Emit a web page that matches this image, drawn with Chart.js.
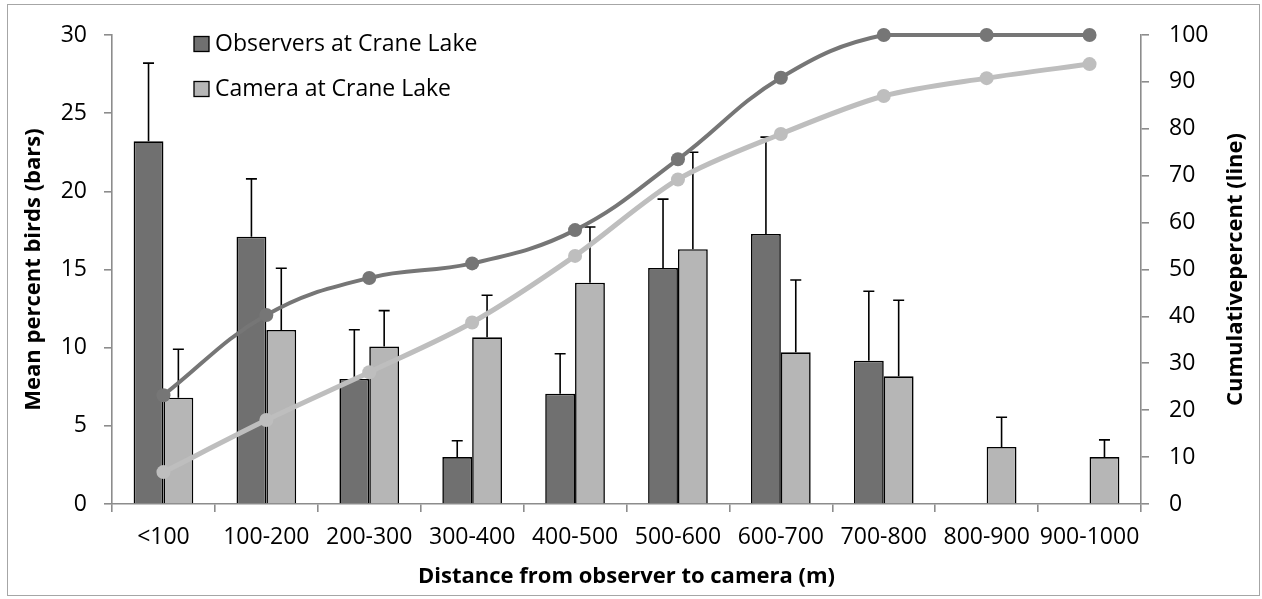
<!DOCTYPE html>
<html>
<head>
<meta charset="utf-8">
<script src="https://cdn.jsdelivr.net/npm/chart.js@4"></script>
<style>
html,body{margin:0;padding:0;background:#fff;}
#wrap{position:relative;width:1262px;height:599px;}
#frame{position:absolute;left:7px;top:4px;width:1251px;height:590px;border:1.5px solid #a6a6a6;pointer-events:none;}
</style>
</head>
<body>
<div id="wrap">
<canvas id="c" width="1262" height="599"></canvas>
<div id="frame"></div>
</div>
<script>
const categories = ['<100','100-200','200-300','300-400','400-500','500-600','600-700','700-800','800-900','900-1000'];
const observerMean = [23.2, 17.1, 8.0, 3.0, 7.06, 15.1, 17.27, 9.17, null, null];
const observerErr  = [5.0, 3.7, 3.15, 1.05, 2.55, 4.4, 6.2, 4.44, null, null];
const cameraMean   = [6.8, 11.13, 10.07, 10.66, 14.16, 16.3, 9.7, 8.17, 3.65, 3.0];
const cameraErr    = [3.1, 3.95, 2.3, 2.69, 3.56, 6.2, 4.63, 4.86, 1.9, 1.1];
const observerCum  = [23.2, 40.3, 48.2, 51.3, 58.4, 73.5, 90.9, 100, 100, 100];
const cameraCum    = [6.8, 17.9, 28.1, 38.7, 52.9, 69.2, 78.9, 87.0, 90.8, 93.8];
const leftTicks = [0,5,10,15,20,25,30];
const rightTicks = [0,10,20,30,40,50,60,70,80,90,100];
const rightTitle = 'Cumulativepercent (line)';

const FONT = '"Open Sans", sans-serif';
const TICK_SIZE = 23;
const DARK_BAR = '#707070', LIGHT_BAR = '#b6b6b6';
const DARK_LINE = '#767676', LIGHT_LINE = '#bebebe';
const AXIS = '#8c8c8c';

const errorBars = {
  id: 'errorBars',
  afterDatasetDraw(chart, args) {
    const ds = chart.data.datasets[args.index];
    if (!ds.errors) return;
    const meta = args.meta;
    const ys = chart.scales[meta.yAxisID];
    const ctx = chart.ctx;
    ctx.save();
    ctx.strokeStyle = '#000';
    ctx.lineWidth = 1.6;
    meta.data.forEach((el, i) => {
      const v = ds.data[i], e = ds.errors[i];
      if (v == null || e == null) return;
      const yTop = ys.getPixelForValue(v + e);
      ctx.beginPath();
      ctx.moveTo(el.x, el.y);
      ctx.lineTo(el.x, yTop);
      ctx.moveTo(el.x - 5.5, yTop);
      ctx.lineTo(el.x + 5.5, yTop);
      ctx.stroke();
    });
    ctx.restore();
  }
};

const extras = {
  id: 'extras',
  afterDraw(chart) {
    const ctx = chart.ctx;
    const items = chart.data.datasets.filter(d => d.type === 'bar');
    ctx.save();
    ctx.font = TICK_SIZE + 'px ' + FONT;
    ctx.textBaseline = 'middle';
    ctx.textAlign = 'left';
    items.forEach((d, i) => {
      const cy = 44 + i * 45;
      ctx.fillStyle = d.backgroundColor;
      ctx.fillRect(194, cy - 7.5, 15, 15);
      ctx.strokeStyle = '#000';
      ctx.lineWidth = 1.3;
      ctx.strokeRect(194, cy - 7.5, 15, 15);
      ctx.fillStyle = '#000';
      ctx.fillText(d.label, 215, cy);
    });
    // right axis title, reading bottom-to-top
    const ca = chart.chartArea;
    ctx.translate(1236, (ca.top + ca.bottom) / 2);
    ctx.rotate(-Math.PI / 2);
    ctx.font = 'bold 22px ' + FONT;
    ctx.textAlign = 'center';
    ctx.fillText(rightTitle, 0, 0);
    ctx.restore();
  }
};

new Chart(document.getElementById('c'), {
  data: {
    labels: categories,
    datasets: [
      { type: 'bar', label: 'Observers at Crane Lake', data: observerMean, errors: observerErr,
        backgroundColor: DARK_BAR, borderColor: '#000', borderWidth: 1.6, yAxisID: 'y', order: 2,
        categoryPercentage: 0.58, barPercentage: 1.0 },
      { type: 'bar', label: 'Camera at Crane Lake', data: cameraMean, errors: cameraErr,
        backgroundColor: LIGHT_BAR, borderColor: '#000', borderWidth: 1.6, yAxisID: 'y', order: 3,
        categoryPercentage: 0.58, barPercentage: 1.0 },
      { type: 'line', label: 'Observers cumulative', data: observerCum, yAxisID: 'y2', order: 0,
        borderColor: DARK_LINE, backgroundColor: DARK_LINE, borderWidth: 4, tension: 0.4, clip: 12,
        pointRadius: 7, pointBackgroundColor: DARK_LINE, pointBorderWidth: 0 },
      { type: 'line', label: 'Camera cumulative', data: cameraCum, yAxisID: 'y2', order: 1,
        borderColor: LIGHT_LINE, backgroundColor: LIGHT_LINE, borderWidth: 5, tension: 0.3, clip: 12,
        pointRadius: 7, pointBackgroundColor: LIGHT_LINE, pointBorderWidth: 0 }
    ]
  },
  options: {
    responsive: false,
    animation: false,
    devicePixelRatio: 1,
    layout: { padding: { top: 35, left: 0, right: 0, bottom: 0 } },
    plugins: { legend: { display: false }, tooltip: { enabled: false } },
    scales: {
      x: {
        type: 'category', offset: true,
        grid: { display: true, drawOnChartArea: false, offset: true, tickLength: 8, color: AXIS, lineWidth: 1.6 },
        border: { color: AXIS, width: 1.6 },
        ticks: { font: { family: FONT, size: TICK_SIZE }, color: '#000', padding: 12, maxRotation: 0, autoSkip: false },
        title: { display: true, text: 'Distance from observer to camera (m)', font: { family: FONT, size: 22, weight: 'bold' }, color: '#000', padding: { top: 0, bottom: 9 } },
        afterFit(s) { s.height = 95; }
      },
      y: {
        position: 'left', min: 0, max: 30,
        afterBuildTicks(s) { s.ticks = leftTicks.map(v => ({ value: v })); },
        grid: { display: true, drawOnChartArea: false, tickLength: 8, color: AXIS, lineWidth: 1.6 },
        border: { color: AXIS, width: 1.6 },
        ticks: { font: { family: FONT, size: TICK_SIZE }, color: '#000', padding: 17 },
        title: { display: true, text: 'Mean percent birds (bars)', font: { family: FONT, size: 22, weight: 'bold' }, color: '#000', padding: { top: 21, bottom: 0 } },
        afterFit(s) { s.width = 112; }
      },
      y2: {
        position: 'right', min: 0, max: 100,
        afterBuildTicks(s) { s.ticks = rightTicks.map(v => ({ value: v })); },
        grid: { display: true, drawOnChartArea: false, tickLength: 8, color: AXIS, lineWidth: 1.6 },
        border: { color: AXIS, width: 1.6 },
        ticks: { font: { family: FONT, size: TICK_SIZE }, color: '#000', padding: 20 },
        title: { display: false },
        afterFit(s) { s.width = 121; }
      }
    }
  },
  plugins: [errorBars, extras]
});
</script>
</body>
</html>
